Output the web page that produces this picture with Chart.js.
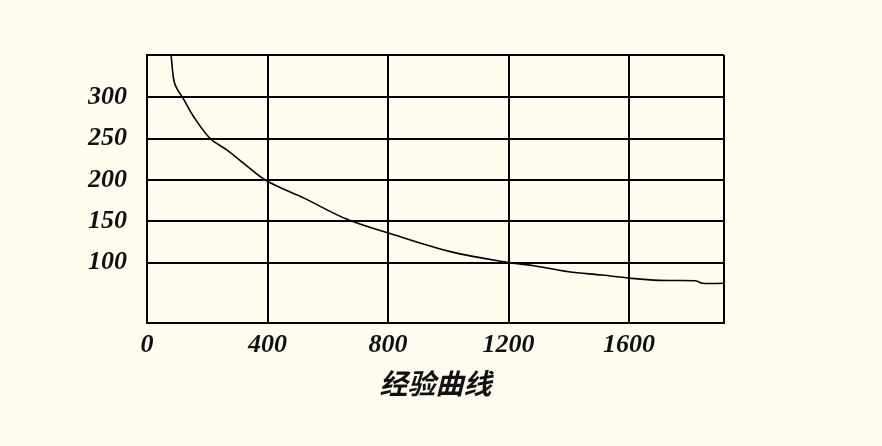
<!DOCTYPE html>
<html>
<head>
<meta charset="utf-8">
<script src="https://cdn.jsdelivr.net/npm/chart.js"></script>
<style>
  html, body { margin: 0; padding: 0; background: #fffdf0; }
  #wrap { width: 882px; height: 446px; }
</style>
</head>
<body>
<div id="wrap"><canvas id="chart" width="882" height="446"></canvas></div>
<script>
// Curve
const xValues = [80, 84, 90, 101, 116, 154, 210, 266, 321, 397, 521, 666, 799, 1010, 1204, 1288, 1399, 1510, 1608, 1699, 1821, 1843, 1915];
const yValues = [351, 335, 319, 309, 301, 277, 250, 236, 220, 199, 178, 152, 136, 113, 100, 96, 89, 85, 81, 78.5, 78, 75, 75];

// Axis ranges and tick labels
const xMin = 0, xMax = 1915;
const yMin = 27, yMax = 351;
const xTicks = [0, 400, 800, 1200, 1600];
const yTicks = [100, 150, 200, 250, 300];
const xTitle = '经验曲线';

const points = xValues.map((x, i) => ({ x: x, y: yValues[i] }));

const tickFont = {
  family: "'Liberation Serif', 'Times New Roman', serif",
  size: 26,
  weight: 'bold',
  style: 'italic'
};

new Chart(document.getElementById('chart'), {
  type: 'scatter',
  data: {
    datasets: [{
      data: points,
      showLine: true,
      borderColor: '#000',
      borderWidth: 1.6,
      pointRadius: 0,
      tension: 0.35,
      fill: false
    }]
  },
  options: {
    responsive: false,
    animation: false,
    layout: { padding: { left: 0, right: 158, top: 55, bottom: 0 } },
    plugins: {
      legend: { display: false },
      tooltip: { enabled: false }
    },
    scales: {
      x: {
        type: 'linear',
        min: xMin,
        max: xMax,
        afterBuildTicks: (scale) => {
          scale.ticks = xTicks.concat([xMax]).map(v => ({ value: v }));
        },
        afterFit: (scale) => { scale.height = 123; },
        grid: { color: '#000', lineWidth: 2, drawTicks: false },
        border: { color: '#000', width: 2 },
        ticks: {
          color: '#111',
          font: tickFont,
          padding: 7,
          maxRotation: 0,
          autoSkip: false,
          callback: (v) => xTicks.includes(v) ? String(v) : ''
        },
        title: {
          display: true,
          text: xTitle,
          color: '#111',
          font: {
            family: "'Noto Sans CJK SC', sans-serif",
            size: 28,
            weight: 'bold',
            style: 'italic'
          },
          padding: { top: 0, bottom: 46 }
        }
      },
      y: {
        type: 'linear',
        min: yMin,
        max: yMax,
        afterBuildTicks: (scale) => {
          scale.ticks = [yMin].concat(yTicks, [yMax]).map(v => ({ value: v }));
        },
        afterFit: (scale) => { scale.width = 147; },
        grid: { color: '#000', lineWidth: 2, drawTicks: false },
        border: { color: '#000', width: 2 },
        ticks: {
          color: '#111',
          font: tickFont,
          padding: 20,
          autoSkip: false,
          callback: (v) => yTicks.includes(v) ? String(v) : ''
        }
      }
    }
  }
});
</script>
</body>
</html>
